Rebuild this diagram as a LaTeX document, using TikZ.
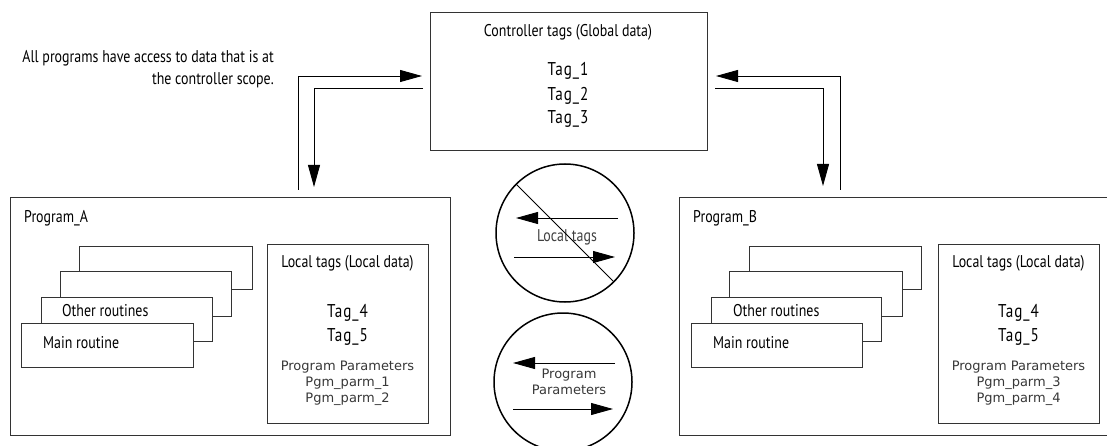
\documentclass[tikz,border=0pt]{standalone}
\usepackage{fontspec}
\usetikzlibrary{arrows.meta}
\newfontfamily\condf[FakeStretch=0.82]{PT Sans}
\newfontfamily\tagf[FakeStretch=0.82, LetterSpace=5]{PT Sans}
\newfontfamily\dvf{DejaVu Sans}
\begin{document}
\begin{tikzpicture}[x=1pt,y=-1pt,
  box/.style={draw=black!80, line width=0.9pt, fill=white, inner sep=0pt, outer sep=0pt, anchor=north west},
  arr/.style={draw=black, line width=0.9pt, -{Triangle[length=22pt,width=12pt]}},
  circ/.style={draw=black, circle, line width=1.5pt, inner sep=0pt, outer sep=0pt, minimum size=138pt},
  lbl/.style={font=\condf\fontsize{17}{22}\selectfont, inner sep=0pt},
  tagl/.style={font=\tagf\fontsize{18.5}{20}\selectfont, inner sep=0pt},
  pp/.style={font=\dvf\fontsize{13}{16.5}\selectfont, text=black!78, inner sep=0pt}]
\useasboundingbox (0,0) rectangle (1107,446);
\clip (0,0) rectangle (1107,446);

% Controller
\node[box, minimum width=277pt, minimum height=138pt] (ctrl) at (430,12) {};
\node[lbl] (ctitle) at (568,32) {Controller tags (Global data)};
\node[tagl] (t1) at (568,71) {Tag\_1};
\node[tagl] (t2) at (568,96) {Tag\_2};
\node[tagl] (t3) at (568,119) {Tag\_3};

\node[lbl, align=right, anchor=east] (note) at (274,69) {All programs have access to data that is at\\the controller scope.};

% Program A
\node[box, minimum width=440pt, minimum height=238pt] (progA) at (10,197) {};
\node[lbl, anchor=west] (pAl) at (24,218) {Program\_A};
\node[box, minimum width=173pt, minimum height=43pt] (rA4) at (79,246) {};
\node[box, minimum width=171pt, minimum height=45pt] (rA3) at (60,271) {};
\node[box, minimum width=171pt, minimum height=44pt] (rA2) at (41,297) {};
\node[lbl, anchor=west] (orA) at (62,311) {Other routines};
\node[box, minimum width=172pt, minimum height=44pt] (rA1) at (21,323) {};
\node[lbl, anchor=west] (mrA) at (43,343) {Main routine};
\node[box, minimum width=161pt, minimum height=179pt] (locA) at (267,244) {};
\node[lbl] (locAt) at (347.5,263) {Local tags (Local data)};
\node[tagl] (t4A) at (347.5,313) {Tag\_4};
\node[tagl] (t5A) at (347.5,337) {Tag\_5};
\node[pp] (ppA) at (347.5,367) {Program Parameters};
\node[pp] (pm1) at (347.5,383) {Pgm\_parm\_1};
\node[pp] (pm2) at (347.5,399) {Pgm\_parm\_2};

% Program B
\node[box, minimum width=433pt, minimum height=238pt] (progB) at (679,197) {};
\node[lbl, anchor=west] (pBl) at (693,218) {Program\_B};
\node[box, minimum width=172pt, minimum height=43pt] (rB4) at (749,246) {};
\node[box, minimum width=173pt, minimum height=45pt] (rB3) at (729,271) {};
\node[box, minimum width=170pt, minimum height=44pt] (rB2) at (711,297) {};
\node[lbl, anchor=west] (orB) at (733,311) {Other routines};
\node[box, minimum width=171pt, minimum height=44pt] (rB1) at (691,323) {};
\node[lbl, anchor=west] (mrB) at (713,343) {Main routine};
\node[box, minimum width=161pt, minimum height=179pt] (locB) at (938,244) {};
\node[lbl] (locBt) at (1018.5,263) {Local tags (Local data)};
\node[tagl] (t4B) at (1018.5,313) {Tag\_4};
\node[tagl] (t5B) at (1018.5,337) {Tag\_5};
\node[pp] (ppB) at (1018.5,367) {Program Parameters};
\node[pp] (pm3) at (1018.5,383) {Pgm\_parm\_3};
\node[pp] (pm4) at (1018.5,399) {Pgm\_parm\_4};

% connectors controller <-> programs
\coordinate (la1) at (298,190);
\coordinate (la2) at (422,76);
\coordinate (lb1) at (423,88);
\coordinate (lb2) at (314,187);
\draw[arr] (la1) |- (la2);
\draw[arr] (lb1) -| (lb2);
\coordinate (ra1) at (840,190);
\coordinate (ra2) at (716,76);
\coordinate (rb1) at (715,88);
\coordinate (rb2) at (823,186);
\draw[arr] (ra1) |- (ra2);
\draw[arr] (rb1) -| (rb2);

% circles
\node[circ] (c1) at (565,233) {};
\coordinate (c1a) at (618,218); \coordinate (c1b) at (516,218);
\coordinate (c1c) at (514,257); \coordinate (c1d) at (615,257);
\draw[arr] (c1a) -- (c1b);
\draw[arr] (c1c) -- (c1d);
\node[lbl, text=black!75] (c1t) at (567,237) {Local tags};
\draw[black, line width=0.9pt] (c1.135) -- (c1.-45);

\node[circ] (c2) at (563,382) {};
\coordinate (c2a) at (615,363); \coordinate (c2b) at (513,363);
\coordinate (c2c) at (513,409); \coordinate (c2d) at (613,409);
\draw[arr] (c2a) -- (c2b);
\draw[arr] (c2c) -- (c2d);
\node[pp, align=center] (c2t) at (569,382) {Program\\Parameters};
\end{tikzpicture}
\end{document}
